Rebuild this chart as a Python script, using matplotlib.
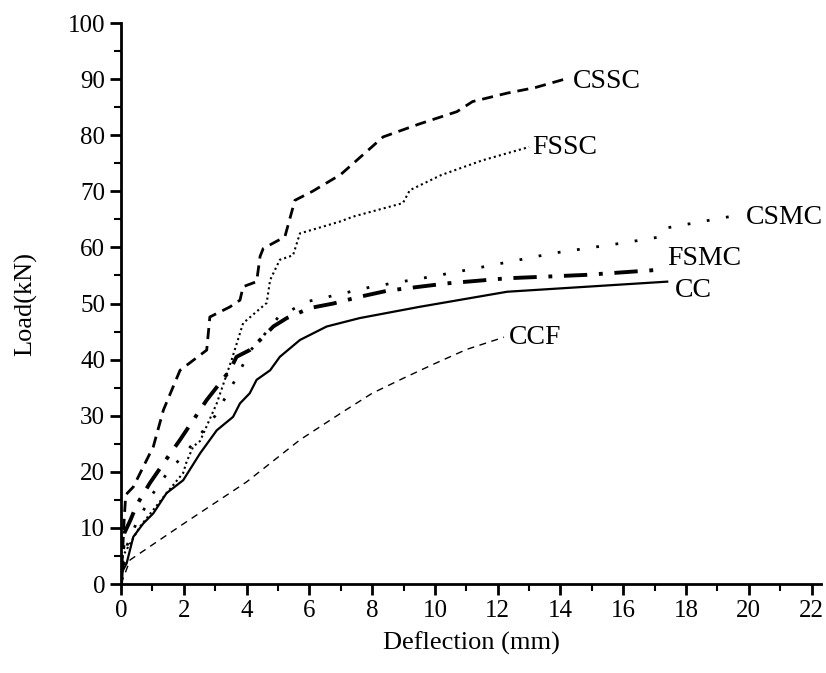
import numpy as np
import matplotlib.pyplot as plt
from matplotlib.ticker import MultipleLocator

plt.rcParams['font.family'] = ['Liberation Serif', 'DejaVu Serif']

# load-deflection curves
cssc_x = [0, 0.1, 0.15, 0.39, 1.03, 1.35, 1.88, 2.73, 2.83, 3.47, 3.79, 3.89, 4.32, 4.43, 4.53,
          5.22, 5.54, 6.1, 7.0, 8.35, 9.5, 10.7, 11.2, 12.3, 13.2, 14.2]
cssc_y = [0, 11.4, 15.9, 17.3, 24.5, 31, 38.1, 41.7, 47.6, 49.4, 50.6, 53, 53.9, 58.4, 59.8,
          61.9, 68.4, 70, 73, 79.7, 82, 84.2, 86, 87.5, 88.5, 90.1]

fssc_x = [0, 0.05, 0.6, 1.45, 1.98, 2.09, 2.3, 2.52, 3.05, 3.52, 3.89, 4.64, 4.75, 5.06,
          5.48, 5.7, 6.97, 7.4, 8.98, 9.2, 10.2, 11.5, 13.0]
fssc_y = [0, 4.9, 10.2, 16.2, 19.8, 21.8, 24.5, 25.5, 32.2, 39.9, 46.5, 50.1, 54.2, 57.8,
          58.6, 62.5, 64.6, 65.5, 67.9, 70.2, 72.9, 75.5, 77.9]

csmc_x = [0, 0.2, 0.5, 1.0, 1.5, 2.0, 3.0, 3.7, 4.1, 4.5, 5.0, 5.9, 8.0, 9.9, 11.6,
          13.8, 16.0, 17.2, 17.4, 19.4]
csmc_y = [0, 7, 11, 16, 20, 23, 30, 37, 41.5, 44, 47.5, 50.3, 53, 54.8, 56.6,
          59, 60.8, 61.9, 63.5, 65.5]

fsmc_x = [0, 0.1, 0.3, 0.5, 0.92, 1.35, 1.88, 2.73, 3.47, 3.68, 4.1, 4.43, 4.85, 5.28,
          6.02, 6.76, 7.6, 8.5, 10.4, 12.3, 14.8, 17.1]
fsmc_y = [0, 9, 11.4, 14.1, 18, 21.5, 25.7, 32.8, 38.1, 40.5, 41.7, 43.5, 45.9, 47.4,
          49.2, 50, 51.2, 52.3, 53.6, 54.5, 55.1, 56]

cc_x = [0, 0.02, 0.18, 0.39, 0.71, 1.03, 1.45, 1.98, 2.52, 3.05, 3.57, 3.79, 4.1, 4.32,
        4.75, 5.06, 5.7, 6.55, 7.6, 9.5, 12.3, 17.4]
cc_y = [0, 2, 3.7, 8.4, 10.8, 12.6, 16.2, 18.5, 23.3, 27.4, 29.8, 32.2, 34, 36.4,
        38.1, 40.5, 43.5, 45.9, 47.4, 49.4, 52.1, 53.9]

ccf_x = [0, 0.29, 1.98, 4.0, 5.7, 7.07, 8.0, 9.0, 10.0, 11.0, 12.2]
ccf_y = [0, 4.3, 10.7, 18.2, 25.7, 30.7, 34, 36.7, 39.3, 41.8, 44]

names = ['CSSC', 'FSSC', 'CSMC', 'FSMC', 'CC', 'CCF']
label_pos = [(14.4, 89.6), (13.1, 77.9), (19.9, 65.4), (17.4, 58.1), (17.65, 52.4), (12.35, 44)]

fig = plt.figure(figsize=(8.26, 6.73), dpi=100)
ax = fig.add_axes([0.1465, 0.1322, 0.8475, 0.8336])

ax.plot(cssc_x, cssc_y, color='black', lw=2.0, dashes=(4, 2.5))
ax.plot(fssc_x, fssc_y, color='black', lw=1.5, dashes=(1, 1.5))
ax.plot(csmc_x, csmc_y, color='black', lw=2.0, dashes=(1, 6))
ax.plot(fsmc_x, fsmc_y, color='black', lw=2.8, dashes=(6, 3, 1, 3))
ax.plot(cc_x, cc_y, color='black', lw=1.6)
ax.plot(ccf_x, ccf_y, color='black', lw=1.0, dashes=(5, 4))

for name, (tx, ty) in zip(names, label_pos):
    ax.text(tx, ty, name, fontsize=20, va='center', ha='left')

ax.set_xlim(0, 22.3)
ax.set_ylim(0, 100)
ax.xaxis.set_major_locator(MultipleLocator(2))
ax.xaxis.set_minor_locator(MultipleLocator(1))
ax.yaxis.set_major_locator(MultipleLocator(10))
ax.yaxis.set_minor_locator(MultipleLocator(5))
ax.spines['top'].set_visible(False)
ax.spines['right'].set_visible(False)
for s in ['left', 'bottom']:
    ax.spines[s].set_linewidth(2)
ax.tick_params(which='major', direction='out', length=8, width=2, labelsize=18)
ax.tick_params(which='minor', direction='out', length=5, width=1.5)

ax.set_xlabel('Deflection (mm)', fontsize=19, labelpad=7)
ax.set_ylabel('Load(kN)', fontsize=19, labelpad=22)

fig.savefig('out.png', dpi=100)
